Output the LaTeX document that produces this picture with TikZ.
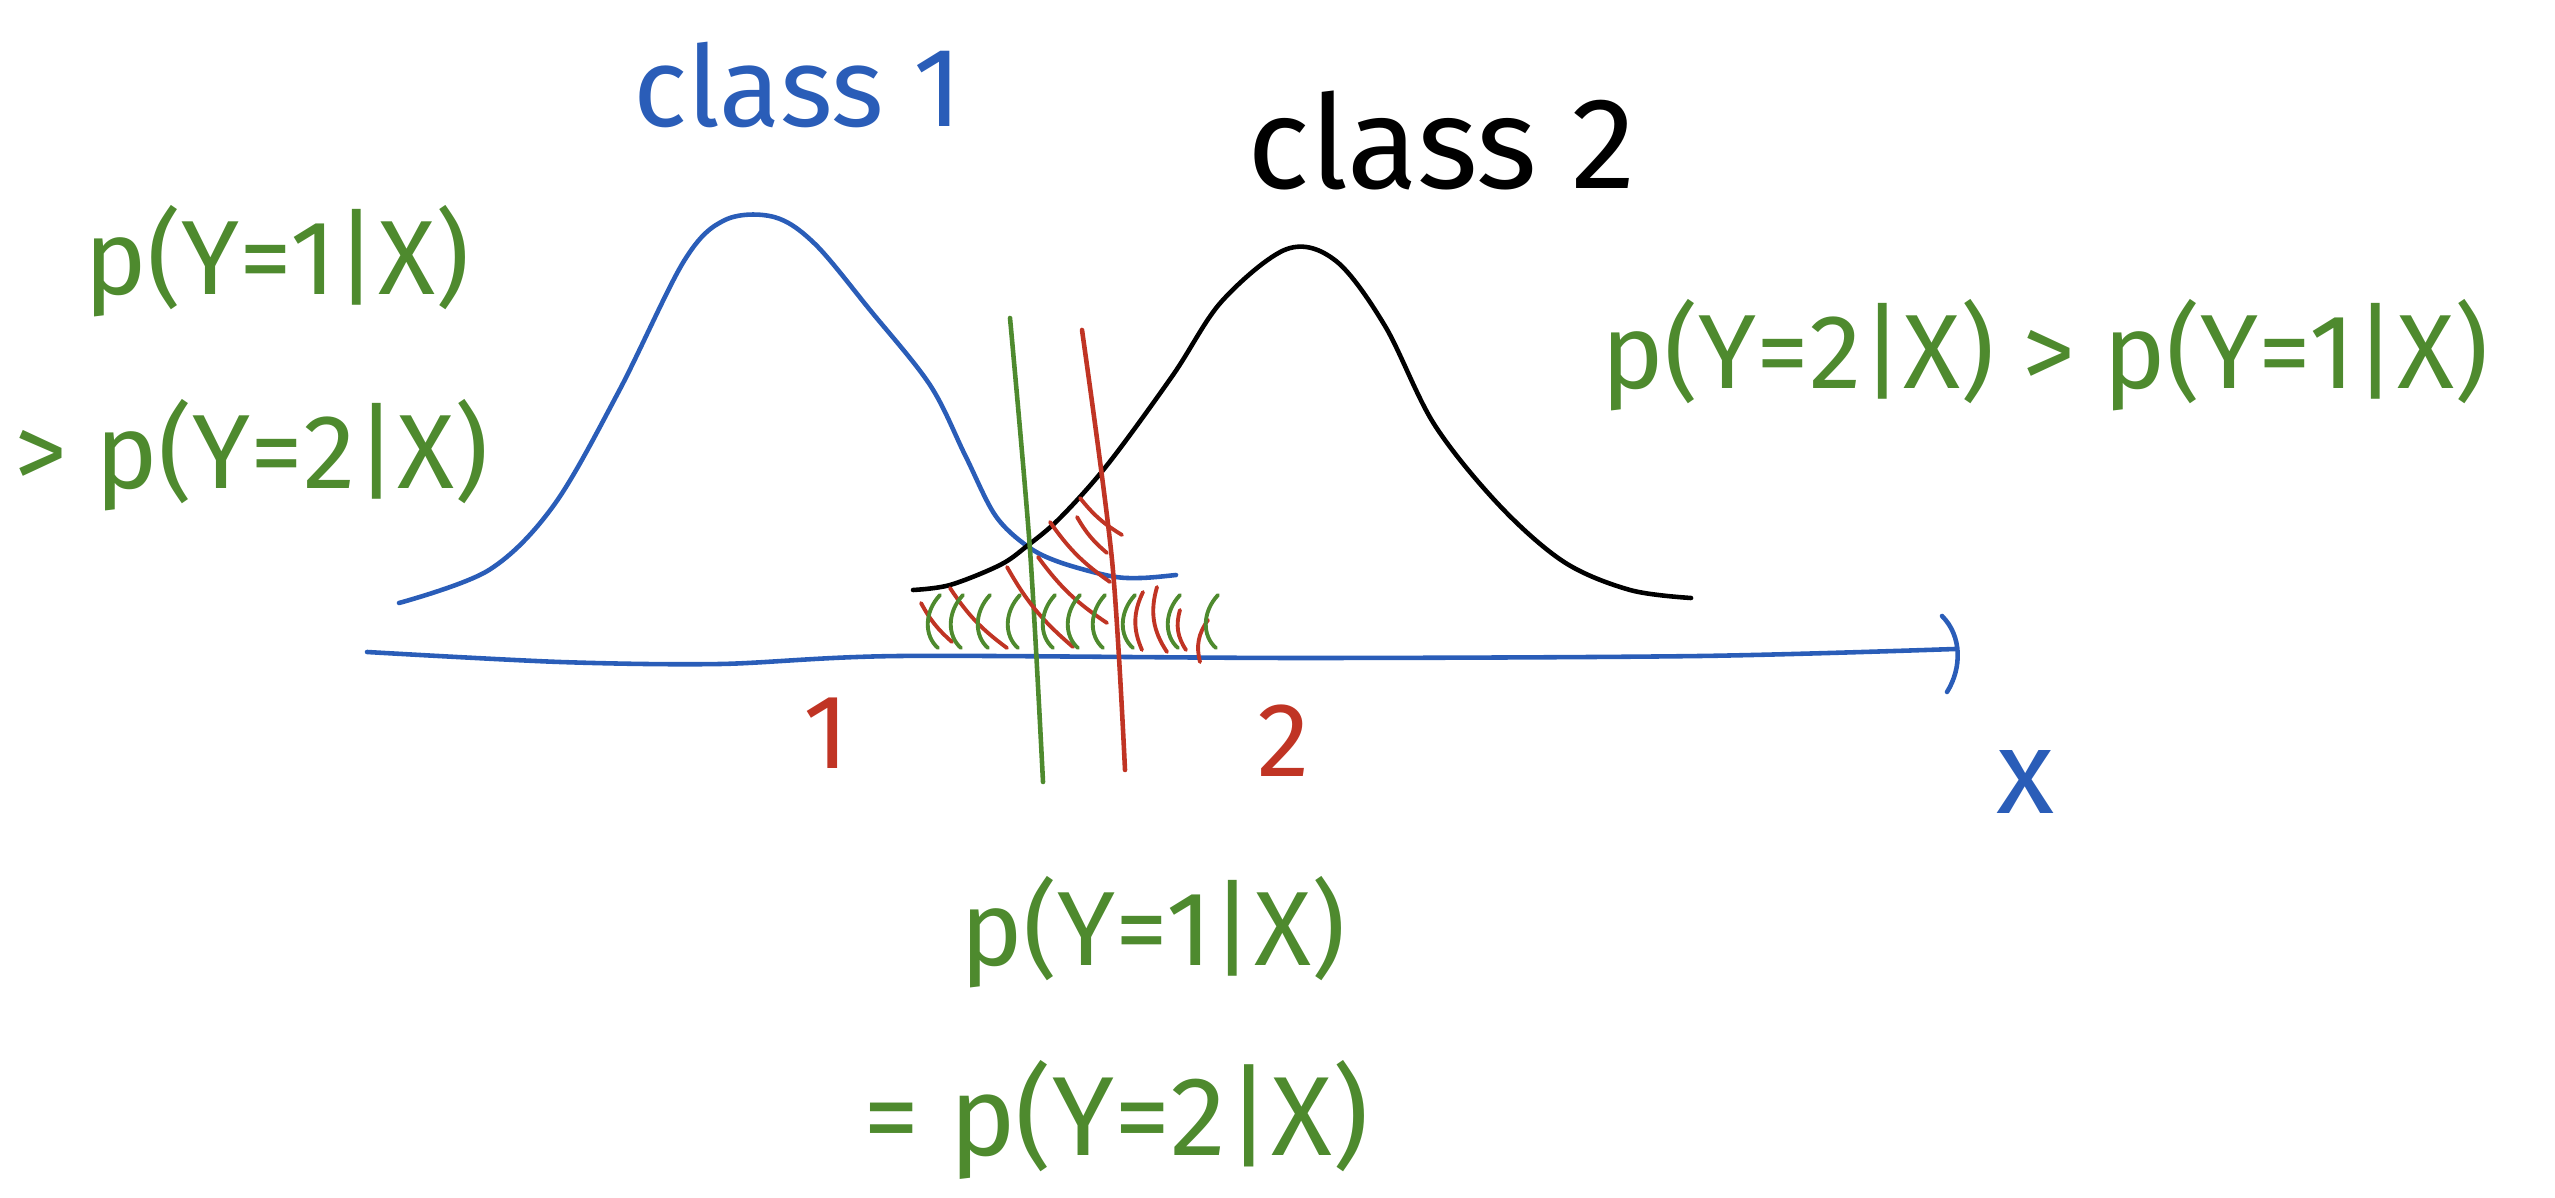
\documentclass[tikz,border=0pt]{standalone}
\usepackage{fontspec}
\setmainfont{Fira Sans}
\definecolor{penblue}{HTML}{2A5DB8}
\definecolor{pengreen}{HTML}{4E8A2E}
\definecolor{penred}{HTML}{C03424}
\begin{document}
\begin{tikzpicture}[x=0.01cm,y=-0.01cm,line cap=round,line join=round,
pen/.style={line width=1.3pt},
hatch/.style={line width=1.1pt},
hand/.style={inner sep=0pt,font=\fontsize{#1}{#1}\selectfont},
hand/.default=30]
\useasboundingbox (0,0) rectangle (2555,1198);
% axis
\draw[pen,penblue] plot[smooth] coordinates {(367,652) (560,662) (720,664) (900,656) (1300,658) (1700,656) (1955,649)};
\draw[pen,penblue] (1942,616) .. controls (1962,636) and (1962,668) .. (1947,692);
% class 1 and class 2 densities
\draw[pen,penblue] plot[smooth,tension=0.55] coordinates {(399,603) (489,570) (554,505) (619,391) (684,261) (725,220) (774,217) (815,244) (870,310) (930,385) (965,455) (995,515) (1027,546) (1059,562) (1110,576) (1141,578) (1176,575)};
\draw[pen,black] plot[smooth,tension=0.55] coordinates {(913,590) (950,585) (1000,565) (1027,546) (1060,518) (1108,464) (1173,375) (1222,301) (1287,249) (1336,261) (1385,326) (1434,424) (1499,505) (1564,562) (1630,590) (1691,598)};
% boundaries
\draw[pen,pengreen] plot[smooth] coordinates {(1010,318) (1030,550) (1043,782)};
\draw[pen,penred] plot[smooth] coordinates {(1082,330) (1112,560) (1125,770)};
% hatching
\foreach \ax/\ay/\bx/\by in {921/603/952/642,950/588/1007/648,1007/567/1073/647,1038/557/1107/623,1050/522/1110/582,1077/517/1107/553,1080/498/1122/535}
  \draw[hatch,penred] (\ax,\ay) to[bend right=10] (\bx,\by);
\foreach \ax/\ay/\bx/\by in {1143/592/1142/650,1157/587/1167/652,1180/610/1186/650,1208/620/1200/662}
  \draw[hatch,penred] (\ax,\ay) to[bend right=25] (\bx,\by);
\foreach \hx in {932,955,982,1012,1047,1072,1097,1127,1172,1210}
  \draw[hatch,pengreen] (\hx+8,595) .. controls (\hx-8,612) and (\hx-8,636) .. (\hx+6,648);
% labels
\node[hand=32,penblue] (cone) at (798,85) {class 1};
\node[hand=37,black] (ctwo) at (1442,140) {class 2};
\node[hand,pengreen] (pleft) at (277,261) {p(Y=1|X)};
\node[hand,pengreen] (pleftb) at (252,455) {> p(Y=2|X)};
\node[hand,pengreen] (pright) at (2045,355) {p(Y=2|X) > p(Y=1|X)};
\node[hand,pengreen] (pmid) at (1153,932) {p(Y=1|X)};
\node[hand=32,pengreen] (pmidb) at (1116,1120) {= p(Y=2|X)};
\node[hand,penred] (one) at (826,733) {1};
\node[hand,penred] (two) at (1284,741) {2};
\node[hand=34,penblue] (xlab) at (2025,782) {x};
\end{tikzpicture}
\end{document}
